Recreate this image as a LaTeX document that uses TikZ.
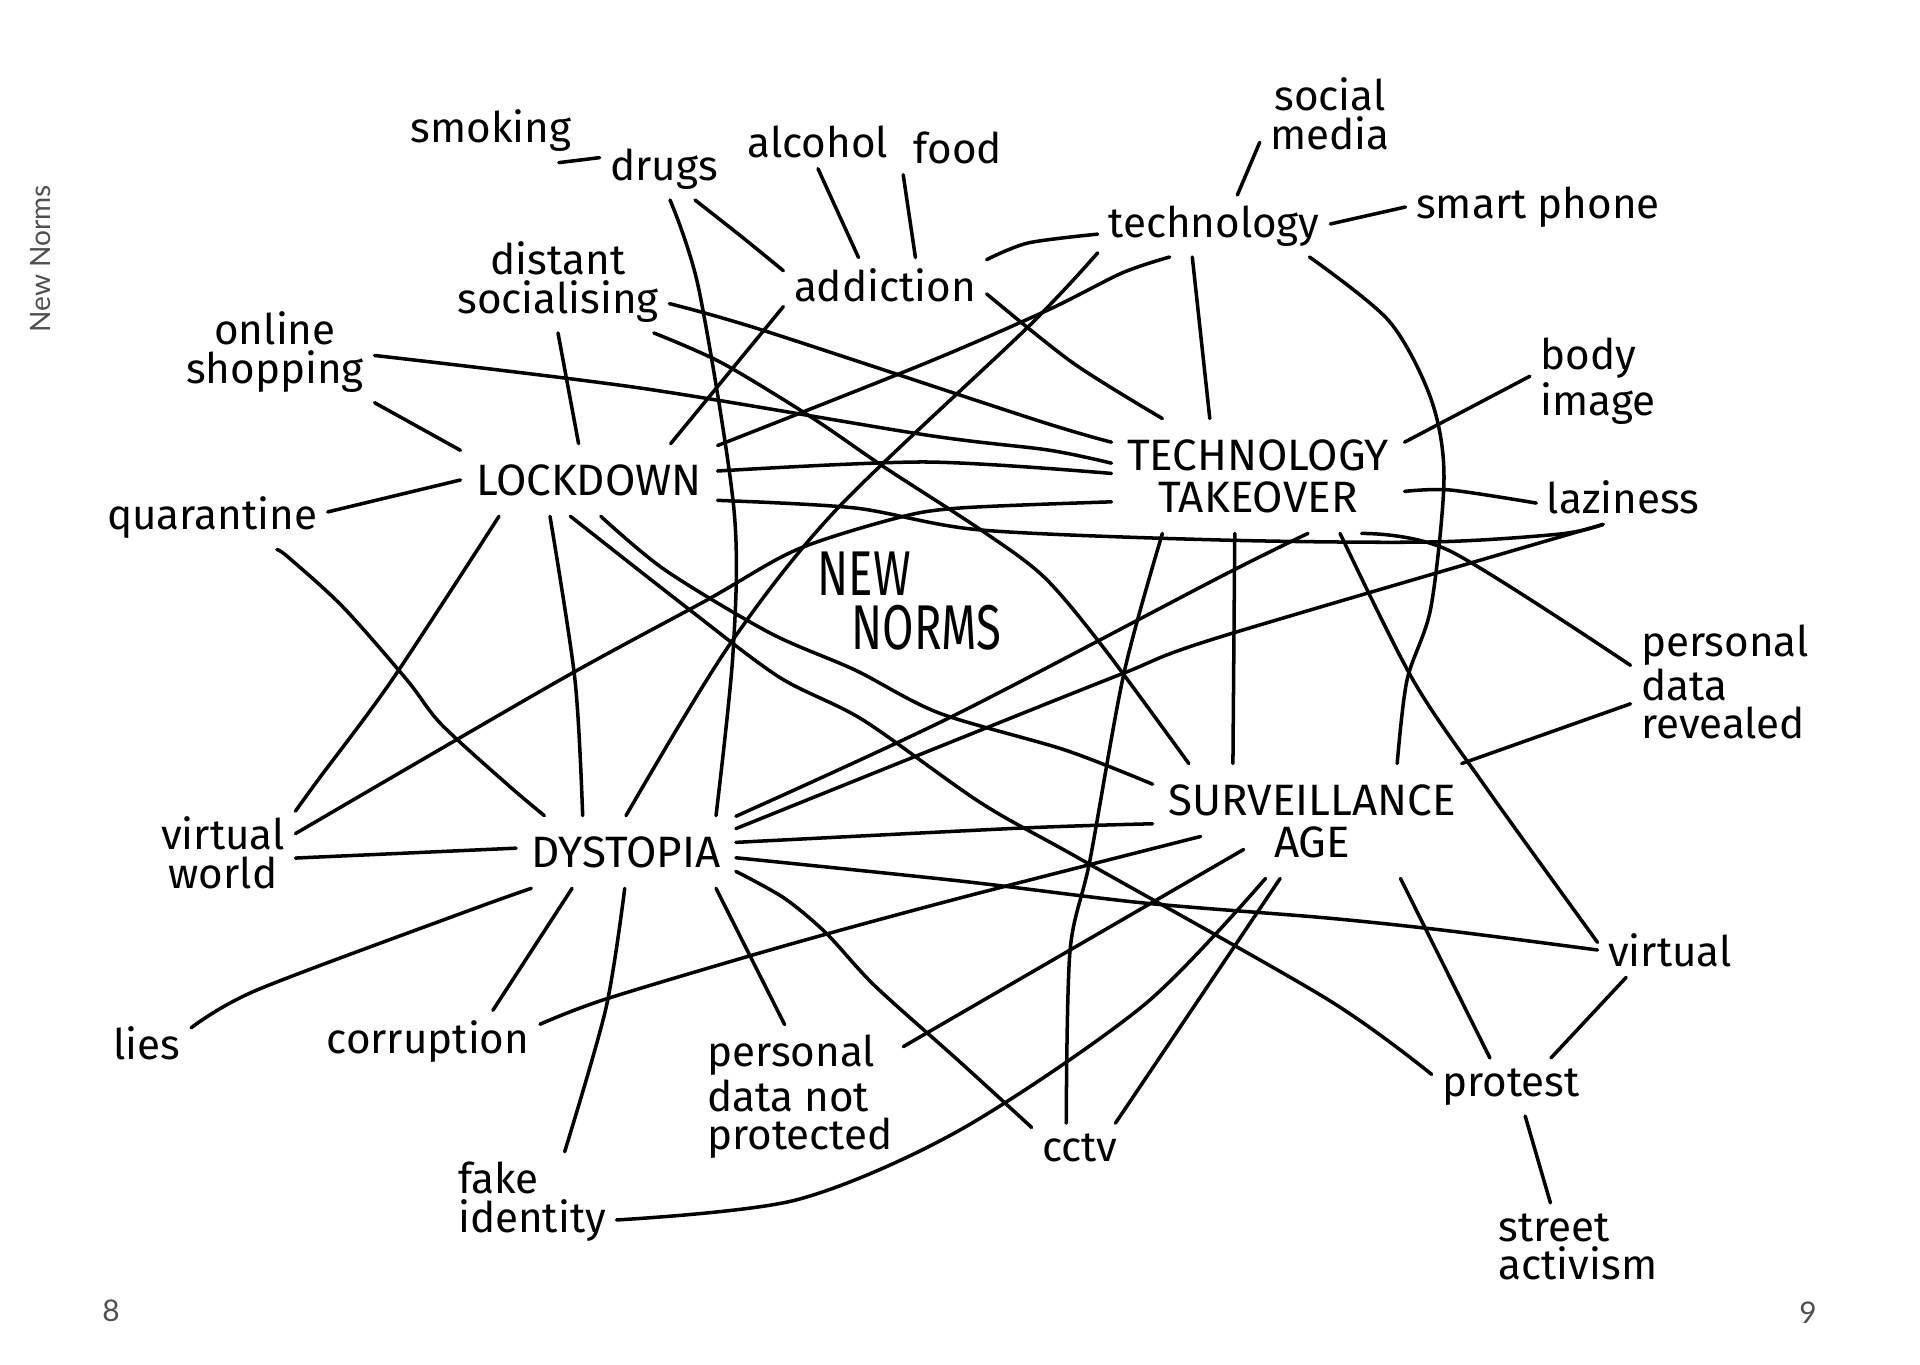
\documentclass[tikz,border=0pt]{standalone}
\usepackage{fontspec}
\newfontfamily\hand{Fira Sans}
\newfontfamily\handnarrow[FakeStretch=0.72]{Fira Sans}
\newfontfamily\side{Lato}
\definecolor{sidegray}{HTML}{4F4F4F}

\begin{document}
\begin{tikzpicture}[x=0.1mm, y=-0.1mm,
    word/.style={font=\hand\fontsize{12}{11}\selectfont, inner sep=1mm, align=center},
    big/.style={font=\hand\fontsize{12.5}{12}\selectfont, inner xsep=1.5mm, inner ysep=2mm, align=center},
    page/.style={font=\side\fontsize{8.5}{9}\selectfont, text=sidegray},
    link/.style={line width=1pt, line cap=round, line join=round}]

    \useasboundingbox (0,0) rectangle (1920,1365);

    % Step 1: 중심 단어
    \node[big] (lockdown) at (589,480) {LOCKDOWN};
    \node[big] (takeover) at (1258,476) {TECHNOLOGY\\TAKEOVER};
    \node[big] (dystopia) at (626,852) {DYSTOPIA};
    \node[big] (surveillance) at (1312,821) {SURVEILLANCE\\AGE};
    \node[font=\handnarrow\fontsize{18}{15.5}\selectfont, align=left, anchor=west, inner sep=0pt] (newnorms) at (817,601) {NEW\\\hspace*{3.4mm}NORMS};

    % Step 2: 주변 단어 (한 줄)
    \foreach \name/\x/\y/\word in {smoking/491/131/smoking, drugs/664/169/drugs, alcohol/818/142/alcohol,
        food/958/148/food, addiction/885/285/addiction, quarantine/212/518/quarantine,
        technology/1214/226/technology, smartphone/1538/207/smart phone, laziness/1623/497/laziness,
        virtualR/1670/950/virtual, protest/1511/1087/protest, cctv/1080/1148/cctv,
        corruption/428/1042/corruption, lies/147/1043/lies} {
        \node[word] (\name) at (\x,\y) {\word};
    }

    % Step 3: 주변 단어 (여러 줄)
    \node[word] (social) at (1330,114) {social\\media};
    \node[word] (distant) at (558,282) {distant\\socialising};
    \node[word] (online) at (275,352) {online\\shopping};
    \node[word, align=left] (body) at (1598,381) {body\\image};
    \node[word, align=left] (revealed) at (1725,682) {personal\\data\\revealed};
    \node[word] (virtualworld) at (223,853) {virtual\\world};
    \node[word, align=left] (notprotected) at (800,1097) {personal\\data not\\protected};
    \node[word, align=left] (fake) at (532,1202) {fake\\identity};
    \node[word, align=left] (street) at (1578,1247) {street\\activism};

    % 여백 글자
    \node[page, rotate=90, font=\side\fontsize{8}{9}\selectfont] (sidebar) at (41,259) {New Norms};
    \node[page] (pageleft) at (111,1311) {8};
    \node[page] (pageright) at (1808,1313) {9};

    % Step 4: addiction 주변 선
    \draw[link] (smoking.-25) -- (drugs.170);
    \draw[link] plot[smooth] coordinates {(drugs.-45) (742,237) (addiction.172)};
    \draw[link] plot[smooth] coordinates {(drugs.-79) (699,290) (734,510) (733,653) (dystopia.22)};
    \draw[link] (alcohol.-90) -- (addiction.134);
    \draw[link] (food.south west) -- (addiction.42);
    \draw[link] plot[smooth] coordinates {(addiction.14) (1028,243) (technology.184)};
    \draw[link] plot[smooth] coordinates {(addiction.-5) (1073,363) (takeover.149)};
    \draw[link] (addiction.192) -- (lockdown.24);

    % Step 5: technology 주변 선
    \draw[link] (technology.53) -- (social.202);
    \draw[link] (technology.1) -- (smartphone.180);
    \draw[link] (technology.-125) -- (takeover.130);
    \draw[link] plot[smooth] coordinates {(technology.-145) (1122,273) (1048,310) (926,363) (lockdown.15)};
    \draw[link] plot[smooth] coordinates {(technology.-167) (1028,327) (836,510) (728,647) (dystopia.90)};
    \draw[link] plot[smooth] coordinates {(technology.-18) (1389,321) (1431,399) (1444,477) (1431,607) (1407,680) (surveillance.34)};

    % Step 6: LOCKDOWN 주변 선
    \draw[link] (distant.-90) -- (lockdown.106);
    \draw[link] plot[smooth] coordinates {(distant.-11) (762,330) (1036,420) (takeover.167)};
    \draw[link] plot[smooth] coordinates {(distant.-28) (722,363) (811,417) (884,467) (981,530) (1044,577) (1103,647) (surveillance.155)};
    \draw[link] (online.-27) -- (lockdown.167);
    \draw[link] plot[smooth] coordinates {(online.-2) (640,388) (926,435) (1048,450) (takeover.175)};
    \draw[link] plot[smooth] coordinates {(lockdown.4) (926,462) (takeover.179)};
    \draw[link] plot[smooth] coordinates {(lockdown.-9) (855,508) (981,530) (1220,540) (1430,542) (1560,534) (laziness.-126)};
    \draw[link] (lockdown.180) -- (quarantine.3);
    \draw[link] plot[smooth] coordinates {(quarantine.-26) (288,557) (343,607) (407,680) (441,724) (508,785) (dystopia.156)};
    \draw[link] plot[smooth] coordinates {(lockdown.-158) (392,680) (318,780) (virtualworld.30)};
    \draw[link] plot[smooth] coordinates {(lockdown.-137) (575,680) (dystopia.140)};
    \draw[link] plot[smooth] coordinates {(lockdown.-117) (686,607) (779,677) (863,720) (981,803) (1082,860) (1327,999) (protest.171)};
    \draw[link] plot[smooth] coordinates {(lockdown.-72) (665,570) (770,633) (855,670) (939,713) (1065,750) (surveillance.167)};
    \draw[link] plot[smooth] coordinates {(virtualworld.15) (560,680) (707,600) (796,550) (897,518) (960,508) (takeover.190)};

    % Step 7: DYSTOPIA 주변 선
    \draw[link] (dystopia.178) -- (virtualworld.-4);
    \draw[link] plot[smooth] coordinates {(dystopia.201) (465,912) (257,990) (lies.19)};
    \draw[link] (dystopia.214) -- (corruption.26);
    \draw[link] plot[smooth] coordinates {(dystopia.-92) (606,1008) (fake.57)};
    \draw[link] (dystopia.-22) -- (notprotected.102);
    \draw[link] plot[smooth] coordinates {(dystopia.-10) (784,898) (826,933) (875,986) (960,1062) (cctv.157)};
    \draw[link] plot[smooth] coordinates {(dystopia.5) (1023,828) (surveillance.181)};
    \draw[link] plot[smooth] coordinates {(dystopia.-3) (960,881) (1144,903) (1327,918) (1450,931) (virtualR.180)};
    \draw[link] plot[smooth] coordinates {(dystopia.18) (951,717) (1220,577) (takeover.-49)};
    \draw[link] plot[smooth] coordinates {(dystopia.12) (981,730) (1124,673) (1220,637) (laziness.-126)};

    % Step 8: SURVEILLANCE AGE, TAKEOVER 주변 선
    \draw[link] plot[smooth] coordinates {(corruption.9) (606,999) (784,946) (960,898) ([xshift=4.8mm, yshift=4.2mm]surveillance.south west)};
    \draw[link] (notprotected.26) -- ([xshift=9.1mm, yshift=2.9mm]surveillance.south west);
    \draw[link] plot[smooth] coordinates {(fake.-12) (796,1200) (960,1130) (1144,1005) (surveillance.-129)};
    \draw[link] (cctv.35) -- (surveillance.-119);
    \draw[link] plot[smooth] coordinates {(cctv.119) (1070,951) (1090,860) (1124,673) (takeover.-149)};
    \draw[link] (takeover.-112) -- (surveillance.144);
    \draw[link] plot[smooth] coordinates {(takeover.-35) (1413,680) (1487,789) (virtualR.174)};
    \draw[link] (surveillance.-33) -- (protest.126);
    \draw[link] (virtualR.-148) -- (protest.36);
    \draw[link] (protest.-64) -- (street.122);
    \draw[link] (surveillance.21) -- (revealed.193);
    \draw[link] plot[smooth] coordinates {(takeover.-29) (1450,551) (revealed.170)};
    \draw[link] plot[smooth] coordinates {(takeover.-6) (1450,490) (laziness.184)};
    \draw[link] (takeover.13) -- (body.176);

\end{tikzpicture}
\end{document}
